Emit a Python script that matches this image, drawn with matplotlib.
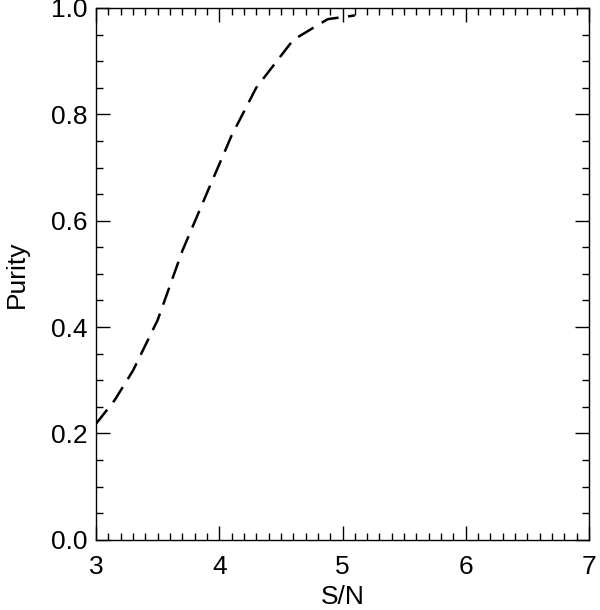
import matplotlib
matplotlib.use('Agg')
import matplotlib.pyplot as plt
from matplotlib.ticker import MultipleLocator

plt.rcParams['font.family'] = ['Liberation Sans', 'DejaVu Sans']

# purity curve
sn = [3.0, 3.15, 3.3, 3.5, 3.7, 3.9, 4.1, 4.3, 4.6, 4.88, 5.1]
purity = [0.218, 0.262, 0.318, 0.413, 0.543, 0.652, 0.76, 0.85, 0.94, 0.979, 0.986]

fig = plt.figure(figsize=(6, 6.1), dpi=100)
ax = fig.add_axes([0.16, 0.1152, 0.8217, 0.8717])

ax.plot(sn, purity, color='black', linewidth=1.8, linestyle=(0, (7.2, 3.8)))

ax.set_xlim(3, 7)
ax.set_ylim(0, 1)
ax.xaxis.set_major_locator(MultipleLocator(1))
ax.xaxis.set_minor_locator(MultipleLocator(0.1))
ax.yaxis.set_major_locator(MultipleLocator(0.2))
ax.yaxis.set_minor_locator(MultipleLocator(0.05))
ax.yaxis.set_major_formatter(plt.FormatStrFormatter('%.1f'))

ax.tick_params(which='both', direction='in', top=True, right=True, labelsize=19, width=1)
ax.tick_params(which='major', length=10)
ax.tick_params(which='minor', length=5)
ax.tick_params(axis='x', pad=11)
ax.tick_params(axis='y', pad=6)
for s in ax.spines.values():
    s.set_linewidth(1)

ax.set_xlabel('S/N', fontsize=19, labelpad=4)
ax.set_ylabel('Purity', fontsize=19, labelpad=16)

fig.savefig('out.png', dpi=100)
